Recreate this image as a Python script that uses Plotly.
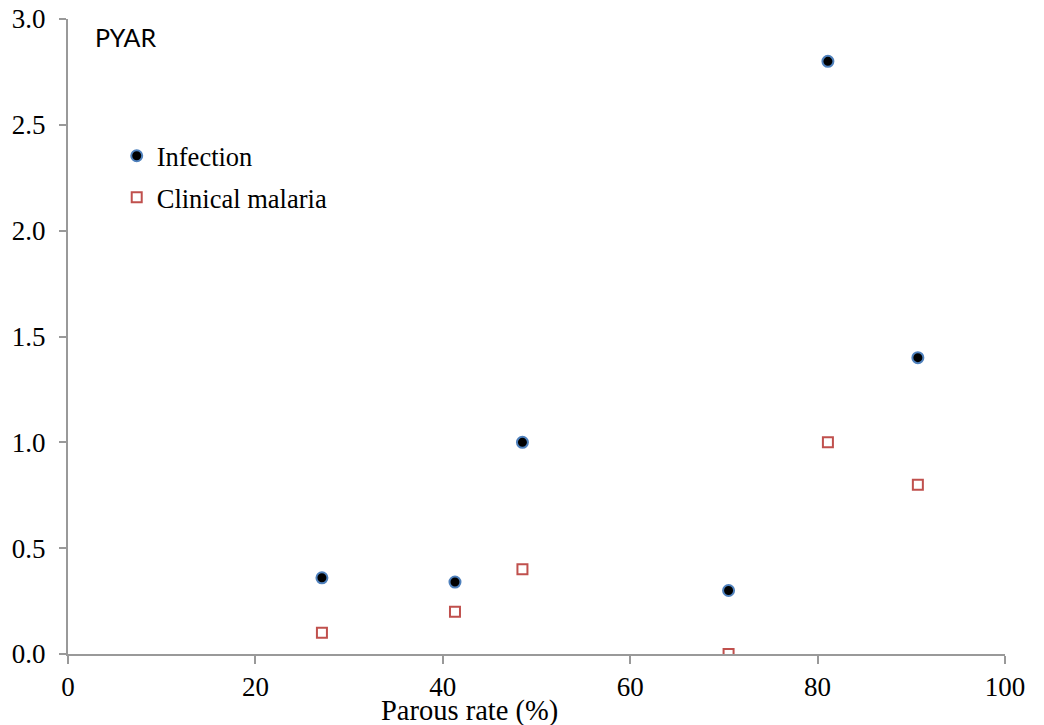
import plotly.graph_objects as go

parous_rate = [27.1, 41.3, 48.5, 70.5, 81.1, 90.7]
infection = [0.36, 0.34, 1.0, 0.30, 2.8, 1.4]
clinical = [0.10, 0.20, 0.40, 0.00, 1.0, 0.80]
y_ticks = [0.0, 0.5, 1.0, 1.5, 2.0, 2.5, 3.0]
x_ticks = [0, 20, 40, 60, 80, 100]

serif = "Liberation Serif, Times New Roman, serif"
axis_gray = "#999999"

fig = go.Figure()
fig.add_trace(go.Scatter(
    x=parous_rate, y=infection, mode="markers", name="Infection",
    legendgroup="a",
    marker=dict(symbol="circle", size=11, color="black",
                line=dict(color="#4f81bd", width=2)),
))
fig.add_trace(go.Scatter(
    x=parous_rate, y=clinical, mode="markers", name="Clinical malaria",
    legendgroup="b",
    marker=dict(symbol="square-open", size=10, color="#c0504d",
                line=dict(color="#c0504d", width=2)),
))

fig.update_layout(
    width=1036, height=717,
    paper_bgcolor="white", plot_bgcolor="white",
    margin=dict(l=60, r=39, t=11, b=71),
    font=dict(family=serif, size=27, color="black"),
    showlegend=True,
    legend=dict(x=0.052, y=0.822, xanchor="left", yanchor="top",
                bgcolor="rgba(0,0,0,0)", font=dict(family=serif, size=26.5),
                traceorder="grouped", tracegroupgap=4),
    xaxis=dict(range=[0, 100], tickvals=x_ticks, ticktext=[str(v) for v in x_ticks],
               showgrid=False, zeroline=False, showline=True, linecolor=axis_gray,
               linewidth=2, ticks="outside", ticklen=8, tickwidth=2, tickcolor=axis_gray,
               tickfont=dict(family=serif, size=27), automargin=False,
               ticklabeloverflow="allow"),
    yaxis=dict(range=[0, 3.0], tickvals=y_ticks, ticktext=[f"{v:.1f}" for v in y_ticks],
               showgrid=False, zeroline=False, showline=True, linecolor=axis_gray,
               linewidth=2, ticks="outside", ticklen=7, tickwidth=2, tickcolor=axis_gray,
               ticklabelstandoff=8, ticklabeloverflow="allow",
               tickfont=dict(family=serif, size=27), automargin=False),
    annotations=[
        dict(text="PYAR", x=0.027, y=0.972, xref="paper", yref="paper",
             xanchor="left", yanchor="middle", showarrow=False,
             font=dict(family="Lato, Open Sans, sans-serif", size=25, color="black")),
        dict(text="Parous rate (%)", x=0.428, y=0, xref="paper", yref="paper",
             xanchor="center", yanchor="middle", yshift=-57, showarrow=False,
             font=dict(family=serif, size=28.5, color="black")),
    ],
)

fig.write_html("out.html")
